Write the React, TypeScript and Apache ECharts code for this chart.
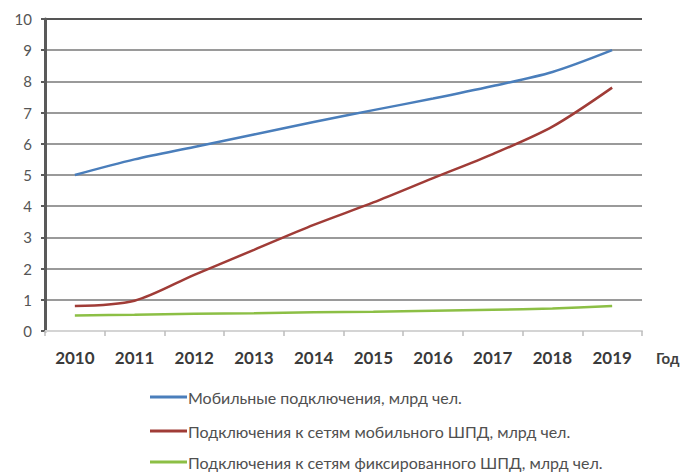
import React, { useEffect, useRef } from "react";
import * as echarts from "echarts";

const years = ["2010", "2011", "2012", "2013", "2014", "2015", "2016", "2017", "2018", "2019"];
const mobileConnections = [5.0, 5.5, 5.9, 6.3, 6.7, 7.08, 7.45, 7.85, 8.3, 9.0];
const mobileBroadband = [0.8, 0.97, 1.8, 2.6, 3.4, 4.12, 4.9, 5.67, 6.55, 7.8];
const fixedBroadband = [0.5, 0.52, 0.55, 0.57, 0.6, 0.62, 0.65, 0.68, 0.72, 0.8];
const seriesNames = [
  "Мобильные подключения, млрд чел.",
  "Подключения к сетям мобильного ШПД, млрд чел.",
  "Подключения к сетям фиксированного ШПД, млрд чел.",
];
const xAxisTitle = "Год";

export default function App() {
  const ref = useRef<HTMLDivElement>(null);
  useEffect(() => {
    if (!ref.current) return;
    const chart = echarts.init(ref.current, null, { renderer: "svg" });
    const font = "Lato, 'Noto Sans', sans-serif";
    const legendTops = [389, 423, 454];
    const legends = seriesNames.map((n, i) => ({
      orient: "horizontal",
      left: 150,
      top: legendTops[i],
      padding: 0,
      icon: "rect",
      itemWidth: 37,
      itemHeight: 3,
      textStyle: { fontFamily: font, fontSize: 16, color: "#505050", padding: [0, 0, 0, -4] },
      data: [n],
    }));
    chart.setOption({
      animation: false,
      backgroundColor: "#ffffff",
      grid: { left: 45, right: 47, top: 19, bottom: 142 },
      legend: legends,
      xAxis: {
        type: "category",
        data: years,
        boundaryGap: true,
        name: xAxisTitle,
        nameLocation: "end",
        nameGap: 14,
        nameTextStyle: {
          fontFamily: font,
          fontSize: 15,
          fontWeight: "bold",
          color: "#404040",
          verticalAlign: "top",
          padding: [19, 0, 0, 0],
        },
        axisLine: { show: true, lineStyle: { color: "#d4d4d4", width: 2 } },
        axisTick: { show: true, length: 5, lineStyle: { color: "#bdbdbd", width: 1.5 } },
        axisLabel: {
          margin: 18,
          fontFamily: font,
          fontSize: 17,
          fontWeight: "bold",
          color: "#3a3a3a",
        },
        splitLine: { show: false },
      },
      yAxis: {
        type: "value",
        min: 0,
        max: 10,
        interval: 1,
        axisLine: { show: true, lineStyle: { color: "#5a5a5a", width: 3 } },
        axisTick: { show: true, length: 4, inside: false, lineStyle: { color: "#5a5a5a", width: 2 } },
        axisLabel: { margin: 13, fontFamily: font, fontSize: 15, color: "#555555" },
        splitLine: {
          show: true,
          lineStyle: {
            width: 2,
            color: [
              "#d4d4d4",
              "#9a9a9a",
              "#9a9a9a",
              "#9a9a9a",
              "#9a9a9a",
              "#9a9a9a",
              "#9a9a9a",
              "#9a9a9a",
              "#9a9a9a",
              "#9a9a9a",
              "#555555",
            ],
          },
        },
      },
      series: [
        {
          name: seriesNames[0],
          type: "line",
          data: mobileConnections,
          smooth: 0.3,
          showSymbol: false,
          symbol: "none",
          lineStyle: { color: "#4a7ebb", width: 2.5 },
          itemStyle: { color: "#4a7ebb" },
        },
        {
          name: seriesNames[1],
          type: "line",
          data: mobileBroadband,
          smooth: 0.3,
          showSymbol: false,
          symbol: "none",
          lineStyle: { color: "#a03c37", width: 2.5 },
          itemStyle: { color: "#a03c37" },
        },
        {
          name: seriesNames[2],
          type: "line",
          data: fixedBroadband,
          smooth: 0.3,
          showSymbol: false,
          symbol: "none",
          lineStyle: { color: "#8cbf45", width: 2.5 },
          itemStyle: { color: "#8cbf45" },
        },
      ],
    });
    return () => chart.dispose();
  }, []);
  return (
    <div
      ref={ref}
      style={{ position: "absolute", left: 0, top: 0, width: 689, height: 473 }}
    />
  );
}
